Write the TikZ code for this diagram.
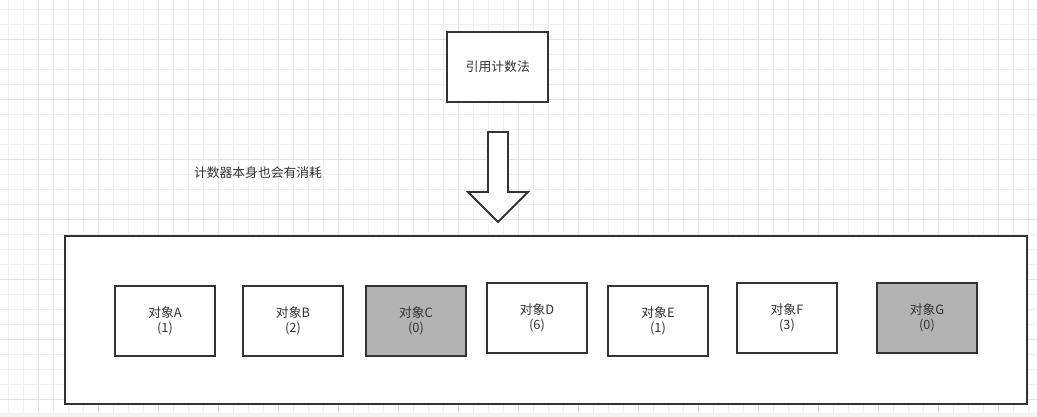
\documentclass[tikz,border=0pt]{standalone}
\usepackage{fontspec}
\newfontfamily\cjk{Noto Sans CJK SC}
\definecolor{lineC}{HTML}{333333}
\definecolor{textC}{HTML}{333333}
\definecolor{grayfill}{HTML}{B3B3B3}
\definecolor{gridminor}{HTML}{EFEFEF}
\definecolor{gridmajor}{HTML}{E2E2E2}
\definecolor{bandC}{HTML}{F2F2F2}
\begin{document}
\begin{tikzpicture}[x=1pt,y=-1pt,
  box/.style={draw=lineC, line width=1.8pt, fill=white, inner sep=0pt, text=textC,
    font=\cjk\fontsize{12.8}{15.5}\selectfont, align=center},
  objbox/.style={box, minimum width=100pt, minimum height=70pt},
  deadbox/.style={objbox, fill=grayfill},
  note/.style={text=textC, font=\cjk\fontsize{12.8}{15}\selectfont, inner sep=0pt},
  bigarrow/.style={draw=lineC, line width=1.8pt, fill=white, line join=miter}
]
\useasboundingbox (0,0) rectangle (1037,417);
\fill[white] (0,0) rectangle (1037,417);
% grid
\foreach \i in {0,...,68} {
  \draw[gridminor, line width=0.8pt] ({8.3+15*\i},0) -- ({8.3+15*\i},413);
}
\foreach \j in {0,...,27} {
  \draw[gridminor, line width=0.8pt] (0,{9.3+15*\j}) -- (1037,{9.3+15*\j});
}
\foreach \i in {0,...,16} {
  \draw[gridmajor, line width=0.8pt] ({38.3+60*\i},0) -- ({38.3+60*\i},413);
}
\foreach \j in {0,...,6} {
  \draw[gridmajor, line width=0.8pt] (0,{39.3+60*\j}) -- (1037,{39.3+60*\j});
}
\fill[bandC] (0,413) rectangle (1037,417);

% top box
\node[box, minimum width=101pt, minimum height=70pt] (method) at (497.8,66.7) {引用计数法};

% big downward arrow
\coordinate (arrowtop) at (498,132);
\draw[bigarrow] (arrowtop) ++(-10,0) -- ++(20,0) -- ++(0,60) -- ++(20,0) -- ++(-30,30) -- ++(-30,-30) -- ++(20,0) -- cycle;

% note
\node[note] (cost) at (258,173) {计数器本身也会有消耗};

% container
\node[box, minimum width=962pt, minimum height=168.6pt] (heap) at (545.7,320) {};

% objects
\node[objbox] (A) at (165,321) {对象A\\(1)};
\node[objbox] (B) at (293,321) {对象B\\(2)};
\node[deadbox] (C) at (416,321) {对象C\\(0)};
\node[objbox] (D) at (537,318) {对象D\\(6)};
\node[objbox] (E) at (658,320.7) {对象E\\(1)};
\node[objbox] (F) at (787,317.8) {对象F\\(3)};
\node[deadbox] (G) at (927,317.8) {对象G\\(0)};
\end{tikzpicture}
\end{document}
